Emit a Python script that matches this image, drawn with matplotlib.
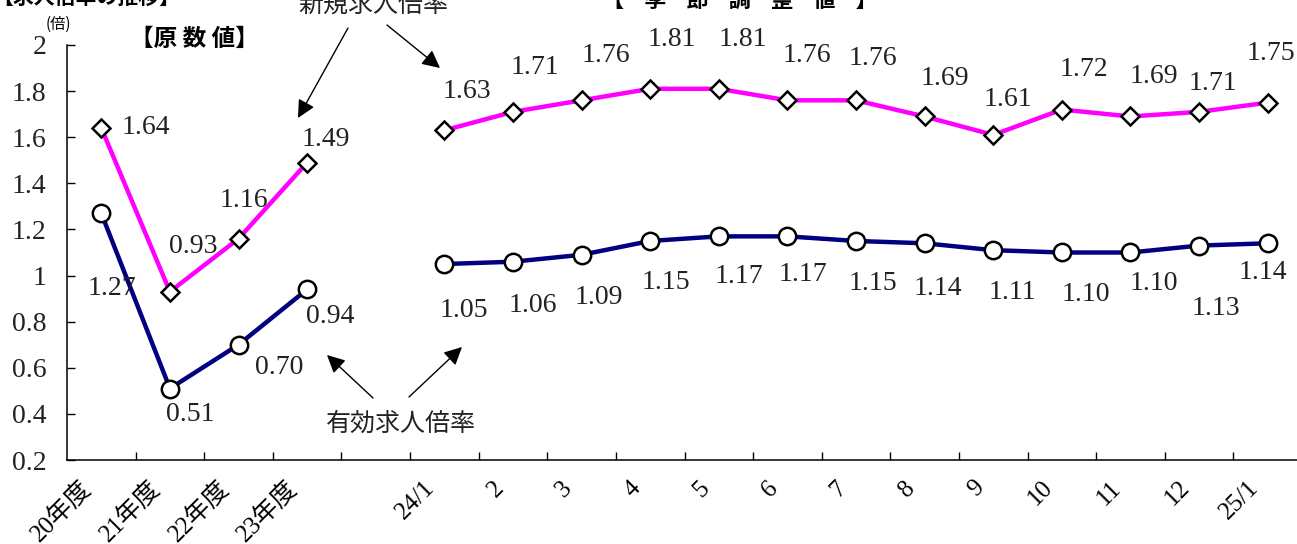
import matplotlib
matplotlib.use("Agg")
import matplotlib.pyplot as plt
import matplotlib.transforms as mtransforms

plt.rcParams["font.family"] = ["Liberation Serif", "Noto Sans CJK JP", "DejaVu Sans"]

################################################################################
# Data
################################################################################
categories = ["20年度", "21年度", "22年度", "23年度", "",
              "24/1", "2", "3", "4", "5", "6", "7", "8", "9", "10", "11", "12", "25/1"]

# 原数値 (annual)
raw_new = [1.64, 0.93, 1.16, 1.49]   # 新規求人倍率
raw_eff = [1.27, 0.51, 0.70, 0.94]   # 有効求人倍率

# 季節調整値 (monthly)
sa_new = [1.63, 1.71, 1.76, 1.81, 1.81, 1.76, 1.76, 1.69, 1.61, 1.72, 1.69, 1.71, 1.75]
sa_eff = [1.05, 1.06, 1.09, 1.15, 1.17, 1.17, 1.15, 1.14, 1.11, 1.10, 1.10, 1.13, 1.14]

y_ticks = [0.2, 0.4, 0.6, 0.8, 1.0, 1.2, 1.4, 1.6, 1.8, 2.0]
y_ticklabels = ["0.2", "0.4", "0.6", "0.8", "1", "1.2", "1.4", "1.6", "1.8", "2"]

# label offsets (pixels) for the value labels
raw_new_off = [(45, 0), (23, 45), (5, 38), (19, 23)]
raw_eff_off = [(11, -75), (20, -26), (41, -23), (23, -27)]
sa_new_off = [(23, 39), (22, 44), (24, 45), (22, 49), (24, 49), (20, 45), (17, 42),
              (20, 38), (15, 35), (22, 40), (23, 40), (14, 28), (3, 49)]
sa_eff_off = [(19, -46), (20, -44), (17, -43), (16, -42), (20, -40), (16, -38), (17, -43),
              (13, -45), (19, -42), (24, -42), (23, -31), (17, -63), (-5, -29)]

NEW_C = "#FF00FF"
EFF_C = "#000080"

W, H = 1297, 544
fig = plt.figure(figsize=(W / 100, H / 100), dpi=100)
ax = fig.add_axes([67 / W, 84 / H, 1235 / W, 415 / H])

raw_x = list(range(len(raw_new)))
sa_x = list(range(5, 5 + len(sa_new)))

diamond = dict(marker="D", markersize=9.5, markerfacecolor="white",
               markeredgecolor="black", markeredgewidth=1.8)
circle = dict(marker="o", markersize=12.5, markerfacecolor="white",
              markeredgecolor="black", markeredgewidth=1.8)

for xs, ys in [(raw_x, raw_new), (sa_x, sa_new)]:
    ax.plot(xs, ys, color=NEW_C, lw=3.2, zorder=3, **diamond)
for xs, ys in [(raw_x, raw_eff), (sa_x, sa_eff)]:
    ax.plot(xs, ys, color=EFF_C, lw=3.2, zorder=3, **circle)

# value labels
for xs, ys, offs in [(raw_x, raw_new, raw_new_off), (raw_x, raw_eff, raw_eff_off),
                     (sa_x, sa_new, sa_new_off), (sa_x, sa_eff, sa_eff_off)]:
    for x, y, o in zip(xs, ys, offs):
        ax.annotate(f"{y:.2f}", xy=(x, y), xytext=o, textcoords="offset pixels",
                    ha="center", va="center", fontsize=20, color="#222222",
                    annotation_clip=False, zorder=5)

################################################################################
# Axis formatting
################################################################################
ax.set_xlim(-0.5, len(categories) - 0.5)
ax.set_ylim(0.2, 2.0)

ax.set_xticks([i + 0.5 for i in range(len(categories) - 1)])
ax.set_xticklabels([])
ax.set_xticks(range(len(categories)), minor=True)
ax.set_xticklabels(categories, minor=True, rotation=45, ha="right", fontsize=18)
ax.tick_params(axis="x", which="major", direction="in", length=6, width=1)
ax.tick_params(axis="x", which="minor", length=0, pad=12)
shift = mtransforms.ScaledTranslation(-5 / 100, 0, fig.dpi_scale_trans)
for lab in ax.get_xticklabels(minor=True):
    lab.set_transform(lab.get_transform() + shift)

ax.set_yticks(y_ticks)
ax.set_yticklabels(y_ticklabels, fontsize=20, color="#222222")
ax.tick_params(axis="y", direction="in", length=6, width=1, pad=15)

ax.spines["top"].set_visible(False)
ax.spines["right"].set_visible(False)
for s in ["left", "bottom"]:
    ax.spines[s].set_linewidth(1.1)

################################################################################
# Titles / annotations
################################################################################
jp = "Noto Sans CJK JP"
fig.text(180 / W, 1 + 3 / H, "【求人倍率の推移】", family=jp, fontsize=15,
         fontweight="bold", ha="right", va="center")
fig.text(58 / W, 1 - 24 / H, "(倍)", family=jp, fontsize=11, ha="center", va="center")
fig.text(194 / W, 1 - 39 / H, "【原 数 値】", family=jp, fontsize=17,
         fontweight="bold", ha="center", va="center")
fig.text(740 / W, 1 + 0 / H, "【    季    節    調    整    値    】", family=jp,
         fontsize=16, fontweight="bold", ha="center", va="center")
fig.text(373 / W, 1 - 5 / H, "新規求人倍率", family=jp, fontsize=18,
         ha="center", va="center", color="#222222")
fig.text(401 / W, 1 - 424 / H, "有効求人倍率", family=jp, fontsize=18,
         ha="center", va="center", color="#222222")

arrow_props = dict(arrowstyle="-|>,head_length=0.6,head_width=0.3", color="k",
                   lw=1, shrinkA=0, shrinkB=0, mutation_scale=18)
arrows = [((348, 28), (298, 118)), ((387, 25), (440, 68)),
          ((373, 398), (327, 355)), ((409, 397), (462, 347))]
for tail, head in arrows:
    ax.annotate("", xy=(head[0], H - head[1]), xytext=(tail[0], H - tail[1]),
                xycoords="figure pixels", arrowprops=arrow_props, annotation_clip=False)

fig.savefig("out.png", dpi=100)
plt.close()
